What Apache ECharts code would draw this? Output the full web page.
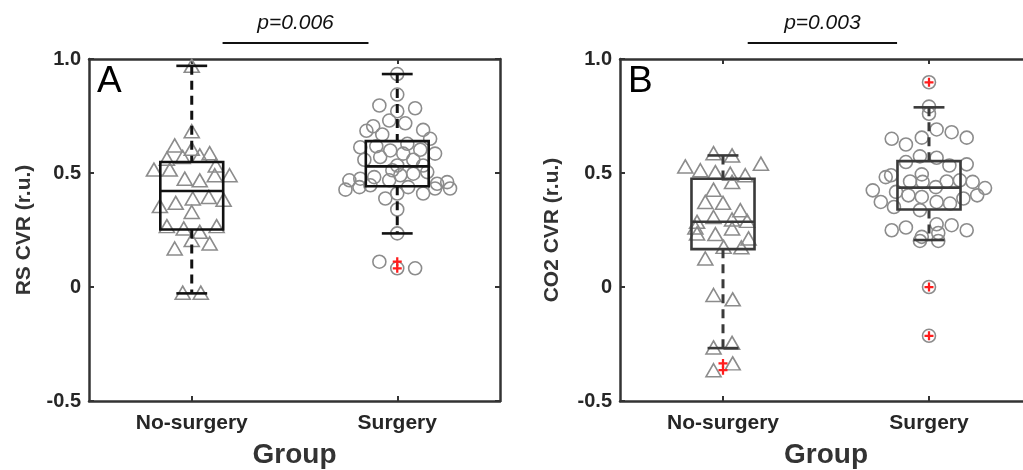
<!DOCTYPE html>
<html>
<head>
<meta charset="utf-8">
<title>CVR by group</title>
<script src="https://cdn.jsdelivr.net/npm/echarts@6/dist/echarts.min.js"></script>
<style>
  html, body { margin: 0; padding: 0; background: #fff; }
  #chart { width: 1023px; height: 470px; }
</style>
</head>
<body>
<div id="chart"></div>
<script>
const groups = ['No-surgery', 'Surgery'];
const yTicks = [-0.5, 0, 0.5, 1.0];
const yTickLabels = ['-0.5', '0', '0.5', '1.0'];

// subjects as [horizontal jitter in category widths, value]
// panel A - RS CVR
const rsNoSurgery = [
  [0, 0.97], [0, 0.683], [-0.083, 0.621], [0, 0.606], [0.087, 0.587], [-0.121, 0.563],
  [-0.044, 0.57], [0.039, 0.577], [0.117, 0.533], [-0.184, 0.515], [-0.107, 0.515],
  [0.112, 0.49], [0.184, 0.49], [-0.034, 0.475], [0.039, 0.468], [0.005, 0.388],
  [0.083, 0.395], [-0.078, 0.369], [0.155, 0.383], [-0.155, 0.355], [0, 0.329],
  [-0.121, 0.267], [-0.039, 0.257], [0.039, 0.242], [0.121, 0.267], [0, 0.206],
  [-0.083, 0.169], [0.087, 0.191], [-0.044, -0.025], [0.044, -0.025]
];
const rsSurgery = [
  [0, 0.934], [0, 0.844], [-0.087, 0.796], [0.087, 0.784], [0, 0.771], [-0.039, 0.73],
  [0.039, 0.718], [-0.117, 0.705], [-0.15, 0.685], [0.126, 0.689], [-0.073, 0.669],
  [0.16, 0.65], [-0.18, 0.613], [-0.102, 0.617], [-0.034, 0.599], [0.049, 0.628],
  [0.112, 0.602], [0.184, 0.585], [-0.16, 0.558], [-0.083, 0.57], [0.029, 0.585],
  [0.078, 0.558], [0.126, 0.533], [0, 0.533], [-0.024, 0.512], [-0.112, 0.482],
  [0.015, 0.49], [0.078, 0.497], [0.146, 0.504], [-0.233, 0.468], [-0.18, 0.475],
  [-0.039, 0.468], [-0.252, 0.427], [-0.184, 0.438], [-0.131, 0.446], [0.053, 0.438],
  [0.126, 0.41], [0.194, 0.453], [0.243, 0.46], [0.257, 0.432], [0.184, 0.432],
  [-0.058, 0.388], [0, 0.41], [0, 0.34], [0, 0.235], [-0.087, 0.111], [0, 0.082],
  [0.087, 0.082]
];
// [lower whisker, q1, median, q3, upper whisker]
const rsBoxNoSurgery = [-0.028, 0.252, 0.421, 0.548, 0.97];
const rsBoxSurgery = [0.235, 0.442, 0.529, 0.64, 0.934];
const rsOutliersNoSurgery = [];
const rsOutliersSurgery = [0.111, 0.082];
const rsPText = 'p=0.006';
const rsPBar = [0.15, 0.86, 1.07];

// panel B - CO2 CVR
const co2NoSurgery = [
  [-0.046, 0.587], [0.044, 0.577], [-0.183, 0.529], [-0.11, 0.512], [-0.037, 0.504],
  [0.035, 0.497], [0.108, 0.49], [0.184, 0.541], [0.044, 0.461], [-0.046, 0.427],
  [-0.086, 0.373], [0, 0.369], [0.084, 0.337], [-0.046, 0.307], [-0.126, 0.286],
  [0.044, 0.296], [0.117, 0.29], [-0.134, 0.261], [0.044, 0.257], [-0.126, 0.235],
  [-0.037, 0.232], [0.124, 0.213], [0.003, 0.176], [0.089, 0.174], [-0.086, 0.125],
  [-0.046, -0.035], [0.047, -0.054], [-0.046, -0.265], [0.044, -0.245],
  [-0.046, -0.365], [0.047, -0.335]
];
const co2Surgery = [
  [0, 0.898], [0, 0.791], [0, 0.76], [0.037, 0.691], [0.11, 0.679], [0.183, 0.655],
  [-0.181, 0.65], [-0.112, 0.625], [-0.035, 0.655], [-0.044, 0.573], [0.037, 0.567],
  [-0.112, 0.548], [0.099, 0.533], [0.183, 0.538], [-0.21, 0.482], [-0.184, 0.49],
  [-0.092, 0.463], [-0.035, 0.494], [-0.031, 0.461], [0.086, 0.463], [0.15, 0.468],
  [0.212, 0.461], [0.272, 0.434], [-0.273, 0.424], [-0.16, 0.417], [-0.1, 0.402],
  [0.033, 0.438], [-0.234, 0.373], [-0.17, 0.351], [-0.035, 0.395], [0.037, 0.373],
  [0.102, 0.366], [0.167, 0.388], [0.234, 0.402], [-0.044, 0.337], [-0.181, 0.249],
  [-0.112, 0.261], [0.037, 0.275], [0.11, 0.271], [0.183, 0.249], [0.045, 0.237],
  [-0.035, 0.22], [-0.044, 0.202], [0.045, 0.202], [0, 0.0], [0, -0.214]
];
const co2BoxNoSurgery = [-0.268, 0.166, 0.286, 0.475, 0.577];
const co2BoxSurgery = [0.206, 0.34, 0.436, 0.552, 0.788];
const co2OutliersNoSurgery = [-0.335, -0.365];
const co2OutliersSurgery = [0.898, 0.0, -0.214];
const co2PText = 'p=0.003';
const co2PBar = [0.12, 0.845, 1.07];

const FONT = '"Liberation Sans", Arial, Helvetica, sans-serif';
const BOX_HALF = 0.153;
const CAP_HALF = 0.075;
const PLUS = 'path://M3,0H5V3H8V5H5V8H3V5H0V3H3Z';

const panels = [
  {
    letter: 'A', yName: 'RS CVR (r.u.)', nameGap: 54, boxColor: '#111', rightEdge: true,
    grid: { left: 89, top: 59, width: 411, height: 342, outerBoundsMode: 'none' },
    points: [rsNoSurgery, rsSurgery],
    boxes: [rsBoxNoSurgery, rsBoxSurgery],
    outliers: [rsOutliersNoSurgery, rsOutliersSurgery],
    pText: rsPText, pBar: rsPBar
  },
  {
    // the right edge of this panel falls just outside the picture
    letter: 'B', yName: 'CO2 CVR (r.u.)', nameGap: 57, boxColor: '#3a3a3a', rightEdge: false,
    grid: { left: 620, top: 59, width: 412, height: 342, outerBoundsMode: 'none' },
    points: [co2NoSurgery, co2Surgery],
    boxes: [co2BoxNoSurgery, co2BoxSurgery],
    outliers: [co2OutliersNoSurgery, co2OutliersSurgery],
    pText: co2PText, pBar: co2PBar
  }
];

function boxRenderer(color) {
  return function (params, api) {
    const g = api.value(0);
    const lo = api.value(1), q1 = api.value(2), md = api.value(3), q3 = api.value(4), hi = api.value(5);
    const P = (dx, v) => api.coord([g + dx, v]);
    const solid = { stroke: color, lineWidth: 2.6, fill: 'none' };
    const dashed = { stroke: color, lineWidth: 3, lineDash: [9, 6], fill: 'none' };
    const seg = (a, b, style) => ({ type: 'line', shape: { x1: a[0], y1: a[1], x2: b[0], y2: b[1] }, style: style });
    const tl = P(-BOX_HALF, q3), br = P(BOX_HALF, q1);
    return {
      type: 'group',
      children: [
        seg(P(0, hi), P(0, q3), dashed),
        seg(P(0, q1), P(0, lo), dashed),
        seg(P(-CAP_HALF, hi), P(CAP_HALF, hi), solid),
        seg(P(-CAP_HALF, lo), P(CAP_HALF, lo), solid),
        { type: 'rect', shape: { x: tl[0], y: tl[1], width: br[0] - tl[0], height: br[1] - tl[1] }, style: solid },
        seg(P(-BOX_HALF, md), P(BOX_HALF, md), solid)
      ]
    };
  };
}

function sigRenderer(text) {
  return function (params, api) {
    const a = api.coord([api.value(0), api.value(2)]);
    const b = api.coord([api.value(1), api.value(2)]);
    return {
      type: 'group',
      children: [
        { type: 'line', shape: { x1: a[0], y1: a[1], x2: b[0], y2: b[1] }, style: { stroke: '#111', lineWidth: 2 } },
        {
          type: 'text', x: (a[0] + b[0]) / 2, y: a[1] - 9,
          style: { text: text, align: 'center', verticalAlign: 'bottom', font: 'italic 21px ' + FONT, fill: '#111' }
        }
      ]
    };
  };
}

const option = {
  animation: false,
  backgroundColor: '#fff',
  title: [],
  grid: [],
  xAxis: [],
  yAxis: [],
  series: []
};

panels.forEach(function (p, i) {
  option.grid.push(p.grid);
  option.title.push({
    text: p.letter, left: p.grid.left + 8, top: 63, padding: 0,
    textStyle: { fontFamily: FONT, fontSize: 37, fontWeight: 'normal', color: '#000' }
  });
  const axisLine = { show: true, onZero: false, lineStyle: { color: '#333', width: 2.5 } };
  const axisTick = { show: true, inside: true, length: 5, lineStyle: { color: '#333', width: 2 } };
  // bottom category axis, top mirror, hidden value axis for jitter
  option.xAxis.push({
    type: 'category', gridIndex: i, position: 'bottom', data: groups,
    axisLine: axisLine,
    axisTick: Object.assign({ alignWithLabel: true }, axisTick),
    axisLabel: { margin: 12, fontFamily: FONT, fontSize: 21, fontWeight: 'bold', color: '#262626' },
    name: 'Group', nameLocation: 'middle', nameGap: 40,
    nameTextStyle: { fontFamily: FONT, fontSize: 28, fontWeight: 'bold', color: '#333' }
  });
  option.xAxis.push({
    type: 'category', gridIndex: i, position: 'top', data: groups,
    axisLine: axisLine,
    axisTick: Object.assign({ alignWithLabel: true }, axisTick),
    axisLabel: { show: false }
  });
  option.xAxis.push({ type: 'value', gridIndex: i, min: -0.5, max: 1.5, show: false });

  option.yAxis.push({
    type: 'value', gridIndex: i, position: 'left', min: -0.5, max: 1, interval: 0.5,
    axisLine: axisLine,
    axisTick: axisTick,
    splitLine: { show: false },
    axisLabel: {
      margin: 8, fontFamily: FONT, fontSize: 20, fontWeight: 'bold', color: '#262626',
      formatter: function (v) { const k = yTicks.findIndex(t => Math.abs(t - v) < 1e-9); return k >= 0 ? yTickLabels[k] : ''; }
    },
    name: p.yName, nameLocation: 'middle', nameGap: p.nameGap,
    nameTextStyle: { fontFamily: FONT, fontSize: 21, fontWeight: 'bold', color: '#333' }
  });
  option.yAxis.push({
    type: 'value', gridIndex: i, position: 'right', min: -0.5, max: 1, interval: 0.5,
    show: p.rightEdge,
    axisLine: axisLine,
    axisTick: axisTick,
    splitLine: { show: false },
    axisLabel: { show: false }
  });

  const xIdx = i * 3 + 2, yIdx = i * 2;
  groups.forEach(function (name, g) {
    option.series.push({
      type: 'scatter', name: name, xAxisIndex: xIdx, yAxisIndex: yIdx, silent: true,
      symbol: g === 0 ? 'triangle' : 'circle',
      symbolSize: g === 0 ? [15, 13] : 13,
      itemStyle: { color: 'rgba(0,0,0,0)', borderColor: '#8c8c8c', borderWidth: 1.6, opacity: 1 },
      data: p.points[g].map(d => [g + d[0], d[1]]),
      z: 2
    });
  });
  option.series.push({
    type: 'custom', xAxisIndex: xIdx, yAxisIndex: yIdx, silent: true,
    renderItem: boxRenderer(p.boxColor),
    data: p.boxes.map((b, g) => [g].concat(b)),
    z: 3
  });
  groups.forEach(function (name, g) {
    if (!p.outliers[g].length) return;
    option.series.push({
      type: 'scatter', xAxisIndex: xIdx, yAxisIndex: yIdx, silent: true,
      symbol: PLUS, symbolSize: 9,
      itemStyle: { color: '#ff1c1c', opacity: 1 },
      data: p.outliers[g].map(v => [g, v]),
      z: 4
    });
  });
  option.series.push({
    type: 'custom', xAxisIndex: xIdx, yAxisIndex: yIdx, silent: true, clip: false,
    renderItem: sigRenderer(p.pText),
    data: [p.pBar],
    z: 5
  });
});

const chart = echarts.init(document.getElementById('chart'));
chart.setOption(option);
window.addEventListener('resize', function () { chart.resize(); });
</script>
</body>
</html>
